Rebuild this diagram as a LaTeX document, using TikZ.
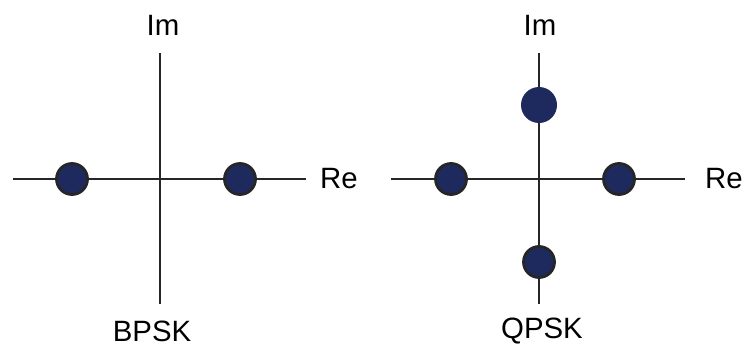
\documentclass[tikz,border=0pt]{standalone}
\usepackage{fontspec}
\setmainfont{Liberation Sans}
\definecolor{dotblue}{HTML}{1E2A5E}
\tikzset{
    axis/.style = {line width=2.6bp, black!85},
    dot/.style = {circle, minimum size=31bp, inner sep=0, fill=dotblue, draw=black!85, line width=2.8bp},
    qdot/.style = {circle, minimum size=36bp, inner sep=0, fill=dotblue},
    lbl/.style = {inner sep=0, font=\fontsize{29.5}{32}\selectfont}
}
\begin{document}
\begin{tikzpicture}[x=1bp, y=1bp]
    \useasboundingbox (0,0) rectangle (744,346);
    % BPSK
    \coordinate (bl) at (13,167);
    \coordinate (br) at (306,167);
    \coordinate (bt) at (160,293);
    \coordinate (bb) at (160,42);
    \draw[axis] (bl) -- (br) (bt) -- (bb);
    \node[dot] (b0) at (72,167) {};
    \node[dot] (b1) at (240,167) {};
    \node[lbl] (bim) at (163,321) {Im};
    \node[lbl, anchor=west] (bre) at (320,167) {Re};
    \node[lbl] (bname) at (152,15) {BPSK};
    % QPSK
    \coordinate (ql) at (391,167);
    \coordinate (qr) at (685,167);
    \coordinate (qt) at (539,293);
    \coordinate (qb) at (539,42);
    \draw[axis] (ql) -- (qr) (qt) -- (qb);
    \node[dot] (q0) at (451,167) {};
    \node[dot] (q1) at (619,167) {};
    \node[qdot] (q2) at (539,241) {};
    \node[dot] (q3) at (539,84) {};
    \node[lbl] (qim) at (540,321) {Im};
    \node[lbl, anchor=west] (qre) at (705,167) {Re};
    \node[lbl] (qname) at (542,15) {QPSK};
\end{tikzpicture}
\end{document}
